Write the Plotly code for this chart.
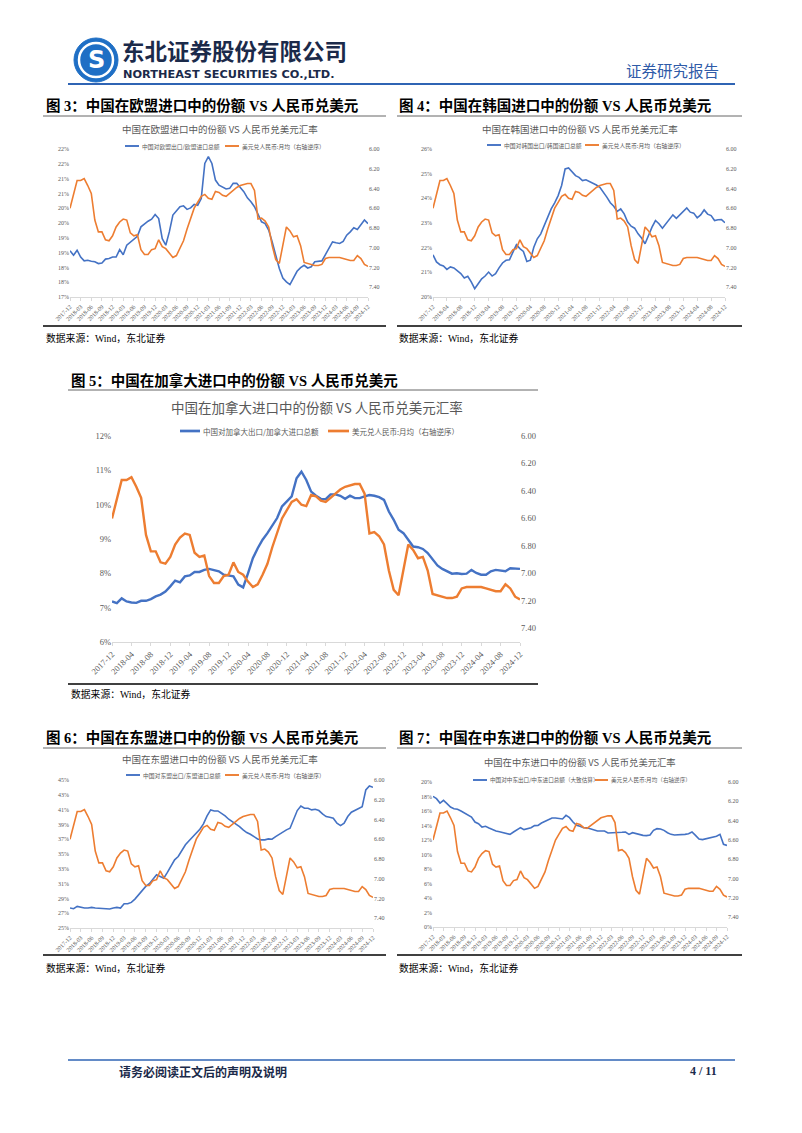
import plotly.graph_objects as go
import pandas as pd

W, H = 802, 1133

# ---------------- data ----------------
months = [p.strftime("%Y-%m") for p in pd.period_range("2017-12", "2024-12", freq="M")]
ticks_3m = months[::3]
ticks_4m = months[::4]

# USD/CNY monthly average (right axis, reversed)
usdcny = [6.60,
          6.47, 6.32, 6.32, 6.30, 6.37, 6.45, 6.72, 6.84, 6.84, 6.92, 6.93, 6.88,
          6.79, 6.74, 6.71, 6.72, 6.85, 6.88, 6.87, 7.02, 7.07, 7.07, 7.02, 7.01,
          6.92, 6.99, 7.01, 7.06, 7.10, 7.08, 7.01, 6.93, 6.81, 6.70, 6.60, 6.54,
          6.48, 6.46, 6.50, 6.51, 6.43, 6.44, 6.47, 6.48, 6.45, 6.42, 6.39, 6.37,
          6.36, 6.35, 6.35, 6.42, 6.71, 6.70, 6.73, 6.79, 6.98, 7.12, 7.16, 6.98,
          6.79, 6.83, 6.89, 6.88, 6.98, 7.15, 7.16, 7.17, 7.18, 7.18, 7.17, 7.11,
          7.10, 7.10, 7.10, 7.10, 7.11, 7.12, 7.13, 7.13, 7.08, 7.11, 7.17, 7.19]

eu_share = [18.56,
            18.41, 18.58, 18.35, 18.22, 18.24, 18.21, 18.19, 18.13, 18.15, 18.28, 18.30, 18.35,
            18.35, 18.60, 18.43, 18.75, 18.86, 18.97, 19.05, 19.37, 19.48, 19.56, 19.63, 19.79,
            19.65, 18.97, 18.75, 19.20, 19.77, 19.93, 20.05, 20.08, 19.96, 20.01, 20.13, 20.10,
            20.33, 21.51, 21.74, 21.51, 20.95, 20.78, 20.72, 20.65, 20.67, 20.84, 20.84, 20.69,
            20.56, 20.35, 20.22, 20.05, 19.77, 19.54, 19.48, 19.26, 18.86, 18.41, 17.96, 17.64,
            17.51, 17.42, 17.64, 17.87, 17.99, 18.07, 17.98, 18.02, 18.19, 18.21, 18.22, 18.43,
            18.66, 18.86, 18.83, 18.81, 18.88, 19.09, 19.20, 19.34, 19.28, 19.43, 19.60, 19.48]

kr_share = [21.71,
            21.42, 21.31, 21.26, 21.12, 21.22, 21.18, 21.08, 20.95, 20.77, 20.84, 20.61, 20.34,
            20.54, 20.74, 20.85, 21.01, 20.85, 20.95, 21.18, 21.38, 21.49, 21.51, 21.82, 22.12,
            21.96, 21.85, 21.44, 21.49, 22.02, 22.36, 22.56, 22.90, 23.30, 23.57, 23.82, 24.11,
            24.52, 25.19, 25.23, 25.06, 24.92, 24.85, 24.72, 24.75, 24.68, 24.63, 24.54, 24.45,
            24.27, 24.05, 23.82, 23.68, 23.47, 23.57, 23.37, 23.04, 22.87, 22.79, 22.56, 22.39,
            22.16, 22.50, 22.83, 23.10, 22.97, 22.79, 22.97, 23.14, 23.33, 23.19, 23.33, 23.51,
            23.61, 23.44, 23.40, 23.21, 23.33, 23.53, 23.36, 23.30, 23.10, 23.13, 23.14, 23.01]

ca_share = [7.18,
            7.13, 7.27, 7.18, 7.15, 7.14, 7.20, 7.20, 7.25, 7.33, 7.38, 7.47, 7.62,
            7.79, 7.74, 7.91, 7.94, 8.04, 8.04, 8.10, 8.13, 8.10, 8.06, 7.96, 7.94,
            7.91, 7.67, 7.59, 8.00, 8.44, 8.73, 8.98, 9.17, 9.41, 9.61, 9.95, 10.09,
            10.24, 10.77, 10.96, 10.72, 10.38, 10.26, 10.17, 10.16, 10.30, 10.30, 10.26, 10.17,
            10.26, 10.19, 10.19, 10.24, 10.28, 10.26, 10.22, 10.14, 9.80, 9.56, 9.27, 9.17,
            8.98, 8.78, 8.76, 8.71, 8.59, 8.41, 8.23, 8.13, 8.06, 7.99, 8.00, 7.98,
            7.99, 8.10, 8.01, 7.96, 7.96, 8.06, 8.10, 8.08, 8.06, 8.15, 8.15, 8.13]

asean_share = [27.70,
               27.61, 27.92, 27.79, 27.70, 27.70, 27.79, 27.70, 27.65, 27.70, 27.65, 27.56, 27.70,
               27.79, 27.70, 28.28, 28.28, 28.46, 28.91, 29.49, 30.08, 30.62, 30.98, 31.52, 32.19,
               31.97, 31.74, 32.51, 33.31, 34.21, 34.66, 35.47, 36.24, 36.78, 37.27, 37.81, 38.35,
               39.07, 40.15, 40.96, 40.82, 40.82, 40.51, 40.15, 39.70, 39.38, 39.07, 38.71, 38.26,
               37.90, 37.67, 37.36, 37.04, 36.91, 36.91, 37.04, 37.00, 37.36, 37.67, 37.90, 38.26,
               38.48, 39.61, 40.87, 41.49, 41.18, 41.18, 40.96, 41.04, 40.87, 40.42, 40.06, 39.97,
               39.83, 39.16, 38.84, 39.16, 40.06, 40.64, 40.87, 41.18, 41.40, 43.65, 44.19, 44.01]

me_share = [18.02,
            17.70, 17.10, 17.47, 17.01, 16.55, 16.32, 16.23, 16.00, 15.72, 15.54, 15.17, 14.48,
            14.25, 13.79, 13.89, 13.66, 13.43, 13.24, 13.15, 13.06, 12.97, 12.78, 13.10, 13.43,
            13.70, 13.43, 13.52, 13.70, 13.98, 14.02, 14.34, 14.57, 14.71, 15.03, 15.03, 14.94,
            14.90, 15.40, 15.08, 14.48, 14.02, 13.89, 13.70, 13.70, 13.56, 13.33, 13.24, 13.24,
            13.24, 12.97, 12.97, 13.01, 13.06, 13.06, 13.10, 12.78, 13.01, 12.87, 12.78, 12.64,
            12.60, 12.69, 13.33, 13.56, 13.52, 13.33, 13.01, 12.78, 12.69, 12.69, 12.69, 12.78,
            12.87, 13.10, 12.64, 12.14, 12.05, 12.14, 12.28, 12.32, 12.51, 12.78, 11.40, 11.26]

# axis ticks
eu_yticks = [17, 17.5, 18, 18.5, 19, 19.5, 20, 20.5, 21, 21.5, 22]
eu_yticktext = ["17%", "18%", "18%", "19%", "19%", "20%", "20%", "21%", "21%", "22%", "22%"]
kr_yticks = [20, 21, 22, 23, 24, 25, 26]
ca_yticks = [6, 7, 8, 9, 10, 11, 12]
asean_yticks = [25, 27, 29, 31, 33, 35, 37, 39, 41, 43, 45]
me_yticks = [0, 2, 4, 6, 8, 10, 12, 14, 16, 18, 20]
fx_ticks = [6.0, 6.2, 6.4, 6.6, 6.8, 7.0, 7.2, 7.4]

fx_label = "美元兑人民币:月均（右轴逆序）"

# ---------------- styling ----------------
BLUE = "#4472C4"
ORANGE = "#ED7D31"
SERIF = "Liberation Serif, Noto Sans CJK SC"
CJK = "Noto Sans CJK SC, Liberation Serif"
TICKC = "#595959"


def px(x):
    return x / W


def py(y):
    return 1 - y / H


charts = [
    dict(share=eu_share, blue_label="中国对欧盟出口/欧盟进口总额",
         title="中国在欧盟进口中的份额 VS 人民币兑美元汇率",
         box=(70, 149, 368, 297), yrange=(17, 22), yticks=eu_yticks, yticktext=eu_yticktext,
         xticks=ticks_3m, title_xy=(220, 129), title_size=9.5,
         leg=(125, 139, 225, 239, 146), leg_size=5.8, tick_size=6, lw=1.6,
         header="图 3：中国在欧盟进口中的份额 VS 人民币兑美元", hx=45, hy=105,
         hline=(43, 386, 116), bline=(43, 386, 326), src=(45, 338)),
    dict(share=kr_share, blue_label="中国对韩国出口/韩国进口总额",
         title="中国在韩国进口中的份额 VS 人民币兑美元汇率",
         box=(433, 149, 725, 297), yrange=(20, 26), yticks=kr_yticks,
         yticktext=[f"{v}%" for v in kr_yticks],
         xticks=ticks_4m, title_xy=(580, 129), title_size=9.5,
         leg=(487, 501, 585, 599, 145), leg_size=5.8, tick_size=6, lw=1.6,
         header="图 4：中国在韩国进口中的份额 VS 人民币兑美元", hx=398, hy=105,
         hline=(397, 742, 116), bline=(397, 742, 326), src=(398, 338)),
    dict(share=ca_share, blue_label="中国对加拿大出口/加拿大进口总额",
         title="中国在加拿大进口中的份额 VS 人民币兑美元汇率",
         box=(112, 436, 520, 642), yrange=(6, 12), yticks=ca_yticks,
         yticktext=[f"{v}%" for v in ca_yticks],
         xticks=ticks_4m, title_xy=(317, 407), title_size=13.5,
         leg=(180, 200, 328, 349, 431), leg_size=7.5, tick_size=8.5, lw=2.4,
         header="图 5：中国在加拿大进口中的份额 VS 人民币兑美元", hx=70, hy=380,
         hline=(68, 538, 390), bline=(68, 538, 684), src=(70, 694)),
    dict(share=asean_share, blue_label="中国对东盟出口/东盟进口总额",
         title="中国在东盟进口中的份额 VS 人民币兑美元汇率",
         box=(70, 780, 373, 928), yrange=(25, 45), yticks=asean_yticks,
         yticktext=[f"{v}%" for v in asean_yticks],
         xticks=ticks_3m, title_xy=(220, 759), title_size=9.5,
         leg=(126, 140, 225, 239, 775), leg_size=5.8, tick_size=6, lw=1.6,
         header="图 6：中国在东盟进口中的份额 VS 人民币兑美元", hx=45, hy=737,
         hline=(43, 386, 748), bline=(43, 386, 955), src=(45, 968)),
    dict(share=me_share, blue_label="中国对中东出口/中东进口总额（大致估算）",
         title="中国在中东进口中的份额 VS 人民币兑美元汇率",
         box=(433, 782, 727, 927), yrange=(0, 20), yticks=me_yticks,
         yticktext=[f"{v}%" for v in me_yticks],
         xticks=ticks_3m, title_xy=(580, 762), title_size=9.3,
         leg=(473, 487, 595, 608, 780), leg_size=5.6, tick_size=6, lw=1.6,
         header="图 7：中国在中东进口中的份额 VS 人民币兑美元", hx=398, hy=737,
         hline=(397, 742, 748), bline=(397, 742, 955), src=(398, 968)),
]

fig = go.Figure()
layout = dict(width=W, height=H, autosize=False, margin=dict(l=0, r=0, t=0, b=0, pad=0),
              paper_bgcolor="white", plot_bgcolor="rgba(0,0,0,0)", showlegend=False)
shapes = []
annotations = []


def text(x, y, s, size, color="#000000", family=CJK, xanchor="left", bold=False):
    annotations.append(dict(x=px(x), y=py(y), xref="paper", yref="paper", text=(f"<b>{s}</b>" if bold else s),
                            showarrow=False, xanchor=xanchor, yanchor="middle",
                            font=dict(size=size, color=color, family=family), borderpad=0))


def hline(x0, x1, y, color="#000000", width=1.0):
    shapes.append(dict(type="line", xref="paper", yref="paper", x0=px(x0), x1=px(x1), y0=py(y), y1=py(y),
                       line=dict(color=color, width=width)))


for i, c in enumerate(charts):
    k = i + 1
    xa = "x" if k == 1 else f"x{k}"
    yl_n = 2 * k - 1
    yr_n = 2 * k
    yl = "y" if yl_n == 1 else f"y{yl_n}"
    yr = f"y{yr_n}"
    x0, y0, x1, y1 = c["box"]
    xdom = [px(x0), px(x1)]
    ydom = [py(y1), py(y0)]

    fig.add_trace(go.Scatter(x=months, y=c["share"], mode="lines", xaxis=xa, yaxis=yl,
                             line=dict(color=BLUE, width=c["lw"]), name=c["blue_label"]))
    fig.add_trace(go.Scatter(x=months, y=usdcny, mode="lines", xaxis=xa, yaxis=yr,
                             line=dict(color=ORANGE, width=c["lw"]), name=fx_label))

    xkey = "xaxis" if k == 1 else f"xaxis{k}"
    ylkey = "yaxis" if yl_n == 1 else f"yaxis{yl_n}"
    yrkey = f"yaxis{yr_n}"
    layout[xkey] = dict(domain=xdom, anchor=yl, type="category", range=[0, len(months) - 1],
                        tickmode="array", tickvals=c["xticks"], ticktext=c["xticks"], tickangle=-45,
                        tickfont=dict(size=c["tick_size"], color=TICKC, family=SERIF),
                        showline=True, linecolor="#d9d9d9", linewidth=1, ticks="outside", ticklen=3,
                        tickcolor="#d9d9d9", showgrid=False, zeroline=False, fixedrange=True,
                        automargin=False)
    layout[ylkey] = dict(domain=ydom, anchor=xa, range=list(c["yrange"]), tickmode="array",
                         tickvals=c["yticks"], ticktext=c["yticktext"],
                         tickfont=dict(size=c["tick_size"], color=TICKC, family=SERIF),
                         showgrid=False, zeroline=False, showline=False, ticks="", fixedrange=True,
                         automargin=False)
    layout[yrkey] = dict(domain=ydom, anchor=xa, overlaying=yl, side="right", range=[7.5, 6.0],
                         tickmode="array", tickvals=fx_ticks, tickformat=".2f",
                         tickfont=dict(size=c["tick_size"], color=TICKC, family=SERIF),
                         showgrid=False, zeroline=False, showline=False, ticks="", fixedrange=True,
                         automargin=False)

    # chart title
    text(c["title_xy"][0], c["title_xy"][1], c["title"], c["title_size"], "#595959", xanchor="center")
    # legend
    lx0, lx1, ox0, ox1, ly = c["leg"]
    lw_leg = c["lw"] + 0.3
    shapes.append(dict(type="line", xref="paper", yref="paper", x0=px(lx0), x1=px(lx1), y0=py(ly), y1=py(ly),
                       line=dict(color=BLUE, width=lw_leg)))
    text(lx1 + 2, ly, c["blue_label"], c["leg_size"], "#595959")
    shapes.append(dict(type="line", xref="paper", yref="paper", x0=px(ox0), x1=px(ox1), y0=py(ly), y1=py(ly),
                       line=dict(color=ORANGE, width=lw_leg)))
    text(ox1 + 2, ly, fx_label, c["leg_size"], "#595959")

    # header, rules and source
    text(c["hx"], c["hy"], c["header"], 14.5, "#000000", family=SERIF, bold=True)
    hline(c["hline"][0], c["hline"][1], c["hline"][2], "#404040", 0.8)
    hline(c["bline"][0], c["bline"][1], c["bline"][2], "#000000", 1.6)
    text(c["src"][0], c["src"][1], "数据来源：Wind，东北证券", 9.8, "#000000", family=SERIF)

# ---------------- page header ----------------
shapes.append(dict(type="circle", xref="paper", yref="paper", x0=px(74), x1=px(118), y0=py(82), y1=py(38),
                   fillcolor="#1F6FC5", line=dict(color="#1F6FC5", width=1)))
shapes.append(dict(type="circle", xref="paper", yref="paper", x0=px(79), x1=px(113), y0=py(77), y1=py(43),
                   fillcolor="rgba(0,0,0,0)", line=dict(color="white", width=2.5)))
text(96, 60, "S", 24, "white", family="DejaVu Sans", xanchor="center", bold=True)
text(121, 50, "东北证券股份有限公司", 22.5, "#1B2A4A", family=CJK, bold=True)
text(122, 74, "NORTHEAST SECURITIES CO.,LTD.", 11.3, "#1B2A4A", family="DejaVu Sans", bold=True)
text(720, 70, "证券研究报告", 15.5, "#2F5BA8", family=CJK, xanchor="right", bold=False)
hline(68, 735, 84, "#2F64B4", 1.8)

# ---------------- page footer ----------------
hline(68, 735, 1060, "#2F64B4", 1.5)
text(118, 1071, "请务必阅读正文后的声明及说明", 12, "#1B2A4A", family=CJK, bold=True)
text(718, 1071, "4 / 11", 12, "#1B2A4A", family=SERIF, xanchor="right", bold=True)

layout["shapes"] = shapes
layout["annotations"] = annotations
fig.update_layout(**layout)
fig.write_html("out.html")
